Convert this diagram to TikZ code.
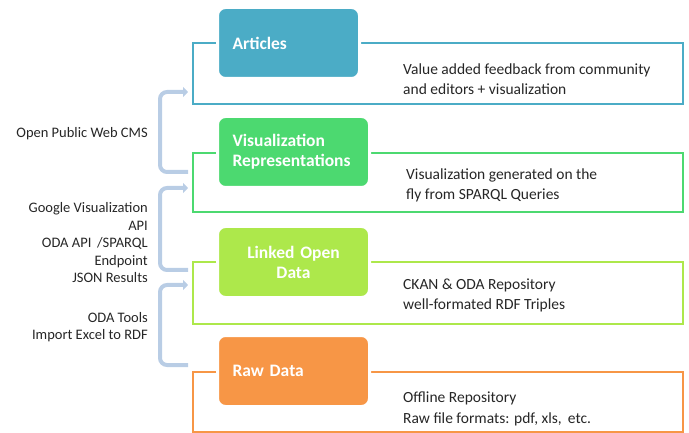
\documentclass[tikz,border=0pt]{standalone}
\usepackage{fontspec}
\setmainfont{Carlito}
\usetikzlibrary{arrows.meta}
\definecolor{artblue}{HTML}{4BACC6}
\definecolor{visgreen}{HTML}{4CD970}
\definecolor{lodlime}{HTML}{ADE84B}
\definecolor{raworange}{HTML}{F79646}
\definecolor{brackblue}{HTML}{B9CDE5}
\definecolor{labelgray}{HTML}{262626}

\begin{document}
\begin{tikzpicture}[x=1pt,y=-1pt,
	layer/.style={rounded corners=8pt, draw=white, line width=3pt, text=white,
		font=\bfseries\fontsize{17.5}{20}\selectfont, minimum height=71pt,
		inner xsep=15pt, inner ysep=0pt, anchor=north west},
	frame/.style={line width=2pt, minimum width=490pt, anchor=north west, inner sep=0pt},
	desc/.style={anchor=west, align=left, font=\fontsize{15.5}{20.5}\selectfont, inner sep=0pt, text=labelgray},
	side/.style={anchor=east, align=right, font=\fontsize{14.5}{17.5}\selectfont, inner sep=0pt, text=labelgray},
	bracket/.style={draw=brackblue, line width=4pt, rounded corners=7pt}]
	\useasboundingbox (0,0) rectangle (689,433);
	% frames behind the layers
	\node[frame, draw=artblue, minimum height=61pt] (artFrame) at (192,42) {};
	\node[frame, draw=visgreen, minimum height=59pt] (visFrame) at (192,152) {};
	\node[frame, draw=lodlime, minimum height=62pt] (lodFrame) at (192,261) {};
	\node[frame, draw=raworange, minimum height=60pt] (rawFrame) at (192,371) {};
	% the four layers
	\node[layer, fill=artblue, text width=112pt, align=left] (artBox) at (216,6) {Articles};
	\node[layer, fill=visgreen, text width=122pt, align=left] (visBox) at (216,115) {Visualization\\Representations};
	\node[layer, fill=lodlime, text width=122pt, align=center] (lodBox) at (216,225) {Linked Open\\Data};
	\node[layer, fill=raworange, text width=122pt, align=left] (rawBox) at (216,334) {Raw Data};
	% what each layer holds
	\node[desc] (artDesc) at (403,79) {Value added feedback from community\\and editors + visualization};
	\node[desc] (visDesc) at (406,185.5) {Visualization generated on the\\fly from SPARQL Queries};
	\node[desc] (lodDesc) at (403,295.5) {CKAN \& ODA Repository\\well-formated RDF Triples};
	\node[desc] (rawDesc) at (403,409) {Offline Repository\\Raw file formats: pdf, xls,\, etc.};
	% tools between the layers
	\node[side] (cmsLabel) at (148,134) {Open Public Web CMS};
	\node[side] (apiLabel) at (148,243) {Google Visualization\\API\\ODA API\, /SPARQL\\Endpoint\\JSON Results};
	\node[side] (toolLabel) at (148,327) {ODA Tools\\Import Excel to RDF};
	\coordinate (cmsLow) at (188,172);
	\coordinate (cmsHigh) at (188,92);
	\coordinate (apiLow) at (188,270);
	\coordinate (apiHigh) at (188,188);
	\coordinate (toolLow) at (188,365);
	\coordinate (toolHigh) at (188,285);
	\draw[bracket, -{Triangle[length=5pt,width=10pt]}] (cmsLow) -- ++(-28,0) |- (cmsHigh);
	\draw[bracket, -{Triangle[length=5pt,width=10pt]}] (apiLow) -- ++(-28,0) |- (apiHigh);
	\draw[bracket, -{Triangle[length=5pt,width=10pt]}] (toolLow) -- ++(-28,0) |- (toolHigh);
\end{tikzpicture}
\end{document}
